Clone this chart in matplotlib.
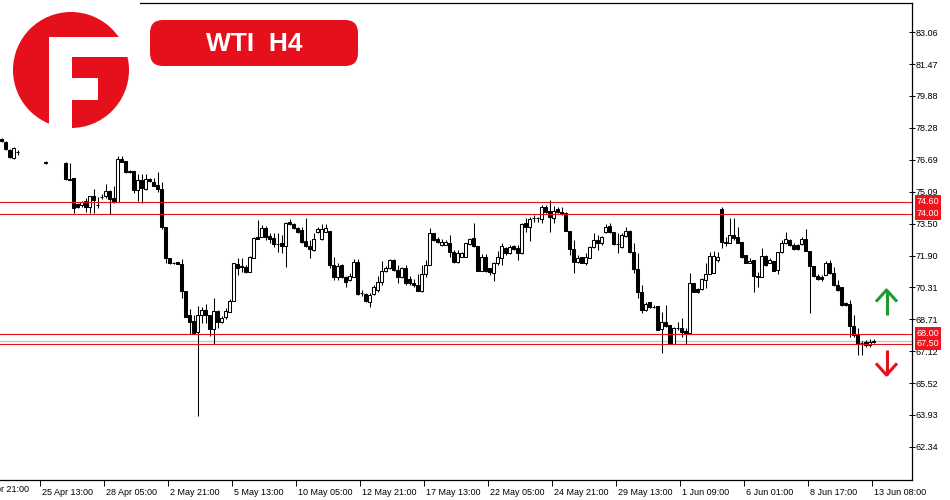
import matplotlib
matplotlib.use("Agg")
import matplotlib.pyplot as plt
import numpy as np
from matplotlib.patches import Circle, Rectangle, FancyBboxPatch
from matplotlib.transforms import ScaledTranslation

# WTI H4 candles (None = no bar drawn)
opens = [77.73, 77.58, 77.18, 76.78, 77.08] + [None] * 6 + [76.58] + [None] * 4 + [
    76.53, 75.73, 75.78, 74.48,
    74.43, 74.63, 74.33, 74.88, 74.45, 74.83, 74.88, 75.13, 74.78, 74.58,
    76.73, 76.63, 76.13, 76.13, 75.18, 75.68, 75.23, 75.73, 75.58, 75.43,
    75.23, 73.33, 71.78, 71.53, 71.58, 71.48, 70.13, 68.93, 68.63, 68.08,
    68.93, 69.18, 68.93, 68.23, 69.13, 68.58, 68.83, 69.08, 69.63, 71.48,
    71.38, 71.33, 71.08, 71.78, 72.83, 72.83, 73.28, 72.88, 72.78, 72.48,
    72.53, 72.38, 73.58, 73.48, 73.28, 73.18, 72.63, 72.38, 72.18, 73.08,
    72.73, 73.08, 73.13, 71.43, 70.83, 71.43, 70.83, 70.68, 70.83, 71.58,
    70.03, 69.98, 69.58, 69.98, 70.18, 70.58, 71.13, 71.28, 71.68, 71.18,
    70.83, 71.28, 70.73, 70.53, 70.43, 70.13, 70.98, 71.43, 73.03, 72.73,
    72.43, 72.43, 72.53, 72.08, 71.58, 71.83, 71.83, 72.48, 72.78, 72.38,
    71.13, 71.83, 71.28, 71.03, 71.53, 71.78, 72.28, 72.03, 72.38, 72.28,
    72.03, 73.53, 73.33, 73.78, 73.78, 73.73, 74.33, 74.13, 73.78, 74.23,
    74.08, 74.03, 73.13, 72.23, 71.58, 71.83, 71.53, 71.78, 72.33, 72.68,
    72.53, 73.08, 73.38, 73.08, 72.48, 72.33, 72.88, 73.13, 72.08, 71.23,
    70.08, 69.18, 69.58, 69.33, 69.38, 68.23, 68.58, 68.43, 67.48, 68.28,
    68.28, 68.13, 68.03, 70.53, 70.23, 70.23, 70.68, 70.98, 71.03, 71.68,
    74.23, 72.58, 72.53, 72.93, 72.83, 72.58, 71.93, 71.53, 71.68, 70.83,
    70.83, 71.88, 71.53, 71.63, 71.18, 72.08, 72.53, 72.68, 72.43, 72.43,
    72.48, 72.73, 72.13, 71.38, 70.88, 70.83, 70.93, 71.53, 71.03, 70.43,
    70.33, 69.53, 69.48, 68.38, 67.98, 67.53, 67.58, 67.43, 67.58]
highs = [77.78, 77.63, 77.23, 77.33, 77.18] + [None] * 6 + [76.63] + [None] * 4 + [
    76.58, 76.53, 75.78, 74.53,
    74.63, 74.78, 74.88, 75.23, 74.83, 74.98, 75.48, 75.18, 75.38, 76.88,
    76.88, 76.63, 76.18, 76.13, 75.98, 75.98, 75.98, 75.78, 75.78, 76.08,
    75.58, 73.33, 71.78, 71.58, 71.58, 71.73, 70.13, 69.23, 68.93, 69.38,
    69.33, 69.48, 68.93, 69.78, 69.18, 68.88, 69.28, 69.73, 71.53, 71.78,
    71.78, 71.43, 71.88, 72.83, 73.68, 73.43, 73.38, 73.03, 73.03, 73.03,
    72.93, 73.58, 73.73, 73.53, 73.33, 73.33, 73.78, 72.68, 73.03, 73.33,
    73.48, 73.48, 73.13, 71.83, 71.53, 71.48, 70.88, 71.03, 71.73, 71.73,
    70.18, 70.03, 70.03, 70.43, 70.88, 71.63, 71.38, 71.73, 71.73, 71.43,
    71.33, 71.43, 70.88, 70.73, 70.98, 71.43, 71.68, 73.28, 73.03, 72.83,
    72.73, 72.68, 72.93, 72.18, 72.18, 72.08, 72.53, 72.78, 73.53, 72.38,
    71.98, 71.98, 71.28, 71.58, 72.13, 72.53, 72.33, 72.43, 72.43, 72.43,
    73.53, 73.78, 73.83, 73.93, 73.83, 74.43, 74.43, 74.68, 74.38, 74.33,
    74.33, 74.08, 73.13, 72.68, 71.93, 71.83, 72.03, 72.38, 73.03, 72.93,
    72.88, 73.48, 73.53, 73.08, 73.03, 73.03, 73.33, 73.18, 72.53, 72.03,
    70.43, 69.58, 69.58, 69.43, 69.38, 69.08, 69.43, 68.43, 68.33, 68.58,
    68.78, 68.28, 71.03, 70.53, 70.28, 70.78, 71.53, 72.08, 72.13, 72.08,
    74.33, 72.83, 73.78, 73.78, 73.33, 72.58, 71.93, 71.78, 71.68, 71.08,
    72.28, 71.93, 71.78, 71.63, 72.08, 72.68, 73.08, 72.73, 72.53, 72.48,
    72.83, 73.23, 72.13, 71.38, 70.98, 70.93, 71.63, 71.68, 71.33, 70.68,
    70.33, 69.58, 69.68, 68.93, 68.28, 67.63, 67.68, 67.73, 67.73]
lows = [77.58, 77.18, 76.78, 76.73, 76.93] + [None] * 6 + [76.48] + [None] * 4 + [
    75.68, 75.68, 74.03, 74.28,
    74.33, 74.08, 74.03, 74.03, 74.28, 74.73, 74.78, 73.98, 74.53, 74.58,
    76.58, 76.03, 76.03, 75.03, 74.63, 74.53, 75.18, 75.58, 75.38, 75.08,
    73.23, 71.53, 71.48, 71.48, 71.48, 69.78, 68.83, 67.98, 67.98, 63.88,
    68.53, 68.53, 67.88, 67.48, 68.28, 68.53, 68.73, 69.08, 69.63, 70.93,
    71.08, 71.03, 71.08, 71.78, 72.73, 72.83, 72.68, 72.53, 72.33, 72.08,
    72.03, 71.33, 73.43, 73.23, 73.03, 72.53, 72.33, 71.78, 72.13, 73.03,
    72.68, 73.08, 71.28, 70.68, 70.68, 70.78, 70.33, 70.63, 70.83, 69.93,
    69.88, 69.58, 69.33, 69.93, 70.08, 70.43, 71.08, 71.23, 71.13, 70.53,
    70.78, 70.43, 70.43, 70.33, 70.13, 70.08, 70.83, 71.43, 72.63, 72.53,
    72.38, 72.43, 71.83, 71.53, 71.53, 71.83, 71.83, 72.43, 72.33, 71.13,
    71.13, 71.08, 70.93, 70.63, 71.43, 71.43, 71.93, 71.98, 72.18, 71.68,
    71.98, 73.08, 72.63, 73.58, 73.58, 73.53, 74.03, 73.08, 73.53, 74.03,
    73.93, 73.13, 71.93, 71.03, 71.53, 71.53, 71.43, 71.78, 72.28, 72.18,
    72.43, 73.03, 73.03, 72.43, 72.03, 72.28, 72.83, 72.03, 71.03, 69.78,
    69.03, 69.13, 69.28, 69.28, 68.18, 67.03, 68.33, 67.48, 67.48, 68.18,
    67.83, 67.48, 68.03, 70.08, 70.03, 70.18, 70.28, 70.98, 71.03, 71.58,
    72.28, 72.38, 72.53, 72.68, 72.53, 71.78, 71.53, 71.53, 70.08, 70.33,
    70.83, 71.38, 71.53, 71.13, 70.98, 72.03, 72.48, 72.38, 72.18, 72.18,
    72.43, 72.13, 69.03, 70.83, 70.68, 70.63, 70.93, 70.98, 70.38, 70.13,
    69.38, 69.38, 67.83, 67.83, 66.93, 66.93, 67.33, 67.33, 67.53]
closes = [77.63, 77.23, 76.83, 77.28, 77.08] + [None] * 6 + [76.53] + [None] * 4 + [
    75.73, 75.70, 74.28, 74.33,
    74.58, 74.33, 74.88, 74.68, 74.43, 74.85, 75.13, 74.73, 74.58, 76.73,
    76.58, 76.08, 76.10, 75.18, 75.68, 75.28, 75.73, 75.63, 75.38, 75.23,
    73.33, 71.78, 71.53, 71.55, 71.50, 70.13, 68.83, 68.58, 68.03, 68.93,
    69.18, 68.93, 68.23, 69.13, 68.58, 68.78, 69.13, 69.63, 71.53, 71.28,
    71.33, 71.08, 71.83, 72.78, 72.73, 73.28, 72.83, 72.73, 72.48, 72.46,
    72.38, 73.53, 73.48, 73.28, 73.08, 72.58, 72.38, 72.23, 72.73, 73.23,
    73.23, 73.28, 71.43, 70.83, 71.38, 70.83, 70.58, 70.88, 71.58, 69.98,
    70.01, 69.63, 69.93, 70.33, 70.58, 71.13, 71.28, 71.68, 71.18, 70.83,
    71.28, 70.53, 70.53, 70.43, 70.13, 70.98, 71.43, 73.03, 72.68, 72.58,
    72.58, 72.58, 72.08, 71.58, 72.03, 72.03, 72.53, 72.73, 72.38, 71.13,
    71.83, 71.13, 71.08, 71.53, 71.83, 72.38, 72.03, 72.33, 72.23, 72.03,
    73.48, 73.33, 73.73, 73.76, 73.80, 74.33, 74.08, 73.83, 74.13, 74.08,
    73.98, 73.13, 72.23, 71.58, 71.78, 71.53, 71.83, 72.33, 72.68, 72.53,
    72.83, 73.33, 73.08, 72.48, 72.46, 72.93, 73.13, 72.08, 71.23, 70.08,
    69.18, 69.48, 69.33, 69.31, 68.18, 68.58, 68.38, 67.48, 68.28, 68.30,
    68.08, 67.98, 70.53, 70.08, 70.08, 70.73, 70.98, 71.88, 71.88, 71.83,
    72.58, 72.53, 72.93, 72.78, 72.53, 71.83, 71.53, 71.63, 70.88, 70.88,
    71.88, 71.43, 71.68, 71.13, 72.08, 72.53, 72.73, 72.43, 72.23, 72.23,
    72.73, 72.13, 71.38, 70.88, 70.73, 70.73, 71.53, 71.03, 70.43, 70.18,
    69.43, 69.43, 68.38, 67.93, 67.48, 67.51, 67.43, 67.58, 67.63]

# support / resistance levels and the bid line
upper_levels = [74.60, 74.00]
lower_levels = [68.00, 67.50]
bid = 67.63

price_ticks = [83.06, 81.47, 79.88, 78.28, 76.69, 75.09, 73.50, 71.90,
               70.31, 68.71, 67.12, 65.52, 63.93, 62.34]
time_labels = ["25 Apr 13:00", "28 Apr 05:00", "2 May 21:00", "5 May 13:00",
               "10 May 05:00", "12 May 21:00", "17 May 13:00", "22 May 05:00",
               "24 May 21:00", "29 May 13:00", "1 Jun 09:00", "6 Jun 01:00",
               "8 Jun 17:00", "13 Jun 08:00"]
time_label_bars = [10, 26, 42, 58, 74, 90, 106, 122, 138, 154, 170, 186, 202, 218]
cut_label = "21 Apr 21:00"  # only its tail shows at the left edge

RED = "#e5101c"
FONT = "Liberation Sans"

o = np.array(opens, dtype=float)
h = np.array(highs, dtype=float)
l = np.array(lows, dtype=float)
c = np.array(closes, dtype=float)
idx = np.arange(len(o))
ok = ~np.isnan(o)

fig = plt.figure(figsize=(9.5, 5), dpi=100)
ax = fig.add_axes([0, 20 / 500, 912 / 950, 477 / 500])
ax.set_xlim(-0.375, 227.625)
ax.set_ylim(60.675, 84.525)

# wicks
ax.vlines(idx[ok], l[ok], h[ok], color="black", linewidth=0.75, zorder=2)
# bodies
bull = ok & (c >= o)
bear = ok & (c < o)
for m, fc in ((bull, "white"), (bear, "black")):
    ax.bar(idx[m], np.abs(c[m] - o[m]), bottom=np.minimum(o[m], c[m]), width=0.62,
           color=fc, edgecolor="black", linewidth=0.75, zorder=3)

ax.axhline(bid, color="#c4c4c4", linewidth=1.0, zorder=1.5)
for lv in upper_levels + lower_levels:
    ax.axhline(lv, color=RED, linewidth=0.8, zorder=4)
    ax.annotate(f"{lv:.2f}", xy=(1, lv), xycoords=("axes fraction", "data"),
                xytext=(3.2, 0), textcoords="offset points", ha="left", va="center",
                fontsize=6.5, family=FONT, color="white", annotation_clip=False,
                bbox=dict(boxstyle="square,pad=0.2", fc="#f0141e", ec="none"), zorder=6)

# axes frame
for side in ("top", "right", "bottom"):
    ax.spines[side].set_linewidth(0.9)
ax.spines["left"].set_visible(False)

ax.yaxis.tick_right()
ax.set_yticks(price_ticks)
ax.set_yticklabels([f"{p:.2f}" for p in price_ticks], family=FONT, fontsize=6.5)
ax.tick_params(axis="y", direction="inout", length=4, width=0.7, pad=0.5)

ax.set_xticks(np.array(time_label_bars) - 0.375)
ax.set_xticklabels(time_labels, ha="left", family=FONT, fontsize=6.5)
ax.tick_params(axis="x", direction="out", length=4, width=0.7, pad=1.5)
shift = ScaledTranslation(2 / 100, 0, fig.dpi_scale_trans)
for lbl in ax.get_xticklabels():
    lbl.set_transform(lbl.get_transform() + shift)
fig.text(-22 / 950, 1 - 490 / 500, cut_label, ha="left", va="center",
         family=FONT, fontsize=6.5)

# overlay in pixel coordinates: logo, title, arrows
ov = fig.add_axes([0, 0, 1, 1])
ov.set_xlim(0, 950)
ov.set_ylim(500, 0)
ov.axis("off")
ov.patch.set_alpha(0)

ov.add_patch(Rectangle((0, 0), 140, 134, fc="white", ec="none"))
ov.add_patch(Circle((71, 70), 58, fc=RED, ec="none"))
# white "F" cut out of the disc
ov.add_patch(Rectangle((49, 37), 23, 95, fc="white", ec="none"))
ov.add_patch(Rectangle((49, 37), 90, 20, fc="white", ec="none"))
ov.add_patch(Rectangle((70, 78), 28, 22, fc="white", ec="none"))

ov.add_patch(FancyBboxPatch((150, 20), 208, 46,
                            boxstyle="round,pad=0,rounding_size=13",
                            fc=RED, ec="none"))
ov.text(254, 44, "WTI  H4", ha="center", va="center", color="white",
        fontsize=19, fontweight="bold", family=FONT)

GREEN = "#1f9a2e"
ov.plot([886.5, 886.5], [315, 291], color=GREEN, lw=2.2, solid_capstyle="butt")
ov.plot([877, 886.5, 896], [300.5, 290, 300.5], color=GREEN, lw=2.2)
ov.plot([886.5, 886.5], [350, 375], color=RED, lw=2.2, solid_capstyle="butt")
ov.plot([877, 886.5, 896], [364.5, 375, 364.5], color=RED, lw=2.2)

fig.savefig("out.png", dpi=100)
